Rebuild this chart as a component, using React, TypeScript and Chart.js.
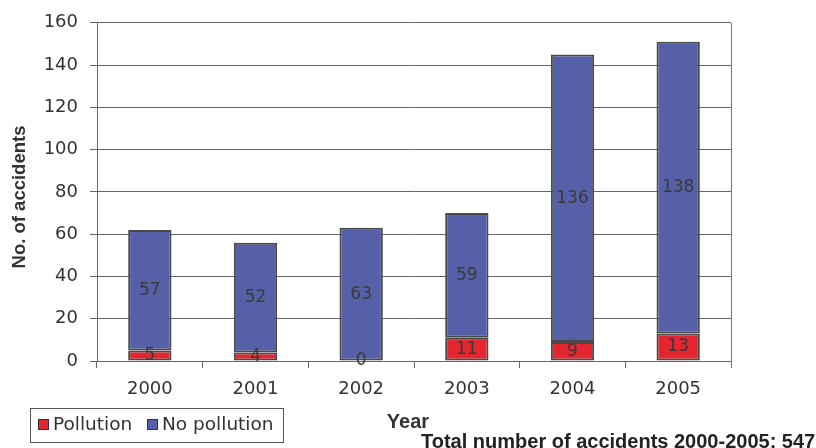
import React, { useEffect, useRef } from "react";
import { Chart, registerables } from "chart.js";

Chart.register(...registerables);

const years = ["2000", "2001", "2002", "2003", "2004", "2005"];
const pollution = [5, 4, 0, 11, 9, 13];
const noPollution = [57, 52, 63, 59, 136, 138];
const yTicks = [0, 20, 40, 60, 80, 100, 120, 140, 160];
const footerText = "Total number of accidents 2000-2005: 547";

const RED = "#E3262F";
const BLUE = "#5560A8";
const EDGE = "#4a4a4a";
const FONT = "'DejaVu Sans', Verdana, sans-serif";
const BFONT = "'Liberation Sans', Arial, sans-serif";

const decorPlugin = {
  id: "decor",
  afterDatasetsDraw(chart: any) {
    const ctx = chart.ctx;
    const area = chart.chartArea;
    ctx.save();
    // right border
    ctx.strokeStyle = "#777";
    ctx.lineWidth = 1;
    ctx.beginPath();
    ctx.moveTo(area.right + 0.5, area.top);
    ctx.lineTo(area.right + 0.5, area.bottom + 7);
    ctx.stroke();

    // data labels
    ctx.fillStyle = "#3a3a3a";
    ctx.font = `17px ${FONT}`;
    ctx.textAlign = "center";
    ctx.textBaseline = "middle";
    chart.data.datasets.forEach((ds: any, di: number) => {
      const meta = chart.getDatasetMeta(di);
      meta.data.forEach((bar: any, i: number) => {
        const v = ds.data[i];
        const cy = (bar.y + bar.base) / 2;
        ctx.fillText(String(v), bar.x, cy);
      });
    });

    // y title
    ctx.save();
    ctx.translate(20, 197);
    ctx.rotate(-Math.PI / 2);
    ctx.font = `bold 18.5px ${BFONT}`;
    ctx.fillStyle = "#333";
    ctx.fillText("No. of accidents", 0, 0);
    ctx.restore();

    // x title
    ctx.font = `bold 20px ${BFONT}`;
    ctx.fillStyle = "#333";
    ctx.textBaseline = "alphabetic";
    ctx.fillText("Year", 408, 428);

    // footer
    ctx.font = `bold 20px ${BFONT}`;
    ctx.textAlign = "left";
    ctx.fillStyle = "#222";
    ctx.fillText(footerText, 421, 448);

    // legend
    ctx.strokeStyle = "#555";
    ctx.lineWidth = 1;
    ctx.strokeRect(30.5, 408.5, 253, 34);
    const items = [
      { label: "Pollution", color: RED, x: 38 },
      { label: "No pollution", color: BLUE, x: 147 },
    ];
    ctx.font = `18.5px ${FONT}`;
    ctx.textBaseline = "middle";
    items.forEach((it) => {
      ctx.fillStyle = it.color;
      ctx.fillRect(it.x, 419, 11, 11);
      ctx.strokeStyle = "#333";
      ctx.strokeRect(it.x + 0.5, 419.5, 10, 10);
      ctx.fillStyle = "#333";
      ctx.fillText(it.label, it.x + 15, 425);
    });
    ctx.restore();
  },
};

export default function App() {
  const ref = useRef<HTMLCanvasElement | null>(null);
  useEffect(() => {
    if (!ref.current) return;
    const chart = new Chart(ref.current, {
      type: "bar",
      data: {
        labels: years,
        datasets: [
          {
            label: "Pollution",
            data: pollution,
            backgroundColor: RED,
            borderColor: EDGE,
            borderWidth: 2,
            borderSkipped: false,
            barPercentage: 0.41,
            categoryPercentage: 1,
          },
          {
            label: "No pollution",
            data: noPollution,
            backgroundColor: BLUE,
            borderColor: EDGE,
            borderWidth: 2,
            borderSkipped: false,
            barPercentage: 0.41,
            categoryPercentage: 1,
          },
        ],
      },
      options: {
        responsive: false,
        animation: false,
        layout: { padding: { top: 22, right: 85, left: 0, bottom: 0 } },
        plugins: {
          legend: { display: false },
          tooltip: { enabled: false },
          title: { display: false },
        },
        scales: {
          x: {
            stacked: true,
            afterFit: (s: any) => {
              s.height = 87;
            },
            grid: {
              display: true,
              offset: true,
              drawOnChartArea: false,
              drawTicks: true,
              tickLength: 7,
              color: "#666",
            },
            border: { display: true, color: "#666", width: 1 },
            ticks: {
              color: "#333",
              font: { family: FONT, size: 18 },
              padding: 11,
            },
          },
          y: {
            stacked: true,
            min: 0,
            max: 160,
            afterFit: (s: any) => {
              s.width = 97;
            },
            afterBuildTicks: (s: any) => {
              s.ticks = yTicks.map((v) => ({ value: v }));
            },
            grid: {
              color: "#666",
              lineWidth: 1,
              tickLength: 7,
            },
            border: { display: true, color: "#666", width: 1 },
            ticks: {
              color: "#333",
              font: { family: FONT, size: 18 },
              padding: 12,
            },
          },
        },
      },
      plugins: [decorPlugin],
    });
    return () => chart.destroy();
  }, []);
  return (
    <div style={{ position: "fixed", left: 0, top: 0, width: 816, height: 448, background: "#fff" }}>
      <canvas ref={ref} width={816} height={448} style={{ width: 816, height: 448 }} />
    </div>
  );
}
